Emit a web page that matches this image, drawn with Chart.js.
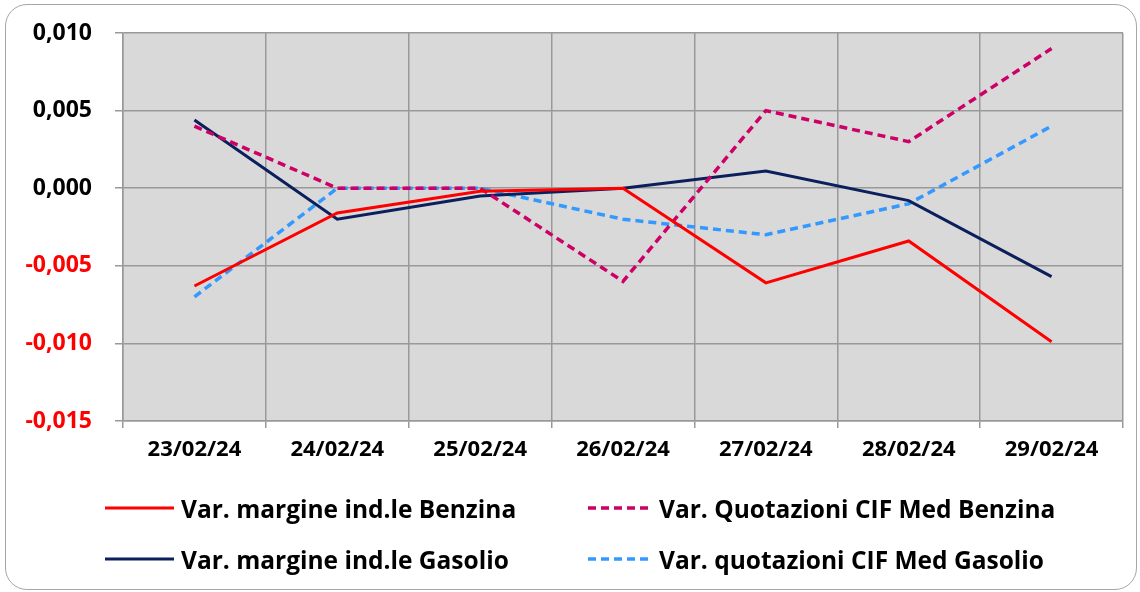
<!DOCTYPE html>
<html>
<head>
<meta charset="utf-8">
<script src="https://cdn.jsdelivr.net/npm/chart.js@4.4.1/dist/chart.umd.min.js"></script>
<style>
  html, body { margin:0; padding:0; background:#fff; }
  body { width:1140px; height:592px; position:relative; overflow:hidden; font-family: "Open Sans", Lato, sans-serif; }
  #frame { position:absolute; left:5px; top:4px; width:1132px; height:586px; border:1.5px solid #a6a6a6; border-radius:22px; box-sizing:border-box; }
  #wrap { position:absolute; left:0; top:0; width:1140px; height:592px; }
  .leg { position:absolute; display:flex; align-items:center; font-weight:bold; font-size:24.5px; color:#000; white-space:nowrap; }
  .leg svg { margin-right:7px; }
</style>
</head>
<body>
<div id="frame"></div>
<div id="wrap"><canvas id="c" width="1140" height="592"></canvas></div>
<div id="legend"></div>
<script>
const categories = ["23/02/24","24/02/24","25/02/24","26/02/24","27/02/24","28/02/24","29/02/24"];
const margineBenzina = [-0.0063, -0.0016, -0.0002, 0.0000, -0.0061, -0.0034, -0.0099];
const quotazioniBenzina = [0.004, 0.000, 0.000, -0.006, 0.005, 0.003, 0.009];
const margineGasolio = [0.0044, -0.0020, -0.0005, 0.0000, 0.0011, -0.0008, -0.0057];
const quotazioniGasolio = [-0.007, 0.000, 0.000, -0.002, -0.003, -0.001, 0.004];
const yTicks = [-0.015, -0.010, -0.005, 0.000, 0.005, 0.010];
const seriesLabels = ["Var. margine ind.le Benzina","Var. Quotazioni CIF Med Benzina","Var. margine ind.le Gasolio","Var. quotazioni CIF Med Gasolio"];

const datasets = [
  {label: seriesLabels[0], data: margineBenzina, borderColor:'#ff0000', borderWidth:3, borderDash:[]},
  {label: seriesLabels[1], data: quotazioniBenzina, borderColor:'#cc0066', borderWidth:3.5, borderDash:[8,5]},
  {label: seriesLabels[2], data: margineGasolio, borderColor:'#0a1f5c', borderWidth:3, borderDash:[]},
  {label: seriesLabels[3], data: quotazioniGasolio, borderColor:'#3399ff', borderWidth:3.5, borderDash:[8,5]}
].map(d => Object.assign(d, {fill:false, tension:0, pointRadius:0, pointHoverRadius:0}));

const plotBg = {
  id:'plotBg',
  beforeDraw(chart){
    const {ctx, chartArea:a} = chart;
    ctx.save(); ctx.fillStyle='#d9d9d9';
    ctx.fillRect(a.left, a.top, a.right-a.left, a.bottom-a.top);
    ctx.restore();
  }
};

new Chart(document.getElementById('c'), {
  type:'line',
  data:{labels:categories, datasets},
  plugins:[plotBg],
  options:{
    responsive:false, animation:false,
    layout:{padding:{left:0, right:17, top:33, bottom:0}},
    plugins:{legend:{display:false}, tooltip:{enabled:false}},
    scales:{
      x:{
        offset:true,
        grid:{offset:true, color:'#999999', lineWidth:1.5, tickLength:7, drawTicks:true},
        border:{color:'#999999', width:1.5},
        ticks:{color:'#000', font:{family:'Open Sans', weight:'bold', size:22}, padding:9, maxRotation:0},
        afterFit(s){ s.height = 171; s.paddingLeft = 0; s.paddingRight = 0; }
      },
      y:{
        min:-0.015, max:0.010,
        afterBuildTicks(s){ s.ticks = yTicks.map(v=>({value:v})); },
        grid:{color:'#999999', lineWidth:1.5, tickLength:8},
        border:{color:'#999999', width:1.5},
        ticks:{
          font:{family:'Open Sans', weight:'bold', size:23}, padding:23,
          color:(c)=> c.tick && c.tick.value < 0 ? '#ff0000' : '#000000',
          callback:(v)=> Number(v).toFixed(3).replace('.',',')
        },
        afterFit(s){ s.width = 123; s.paddingTop = 0; s.paddingBottom = 0; }
      }
    }
  }
});

// HTML legend built from datasets
const legPos = [[105,508],[588,508],[105,559],[588,559]];
const legend = document.getElementById('legend');
datasets.forEach((d,i)=>{
  const el = document.createElement('div');
  el.className='leg';
  el.style.left = legPos[i][0]+'px';
  el.style.top = (legPos[i][1]-17)+'px';
  el.style.height='34px';
  const w = i%2===0 ? 69 : 64;
  const dash = d.borderDash.length ? `stroke-dasharray="${d.borderDash.join(',')}"` : '';
  el.innerHTML = `<svg width="${w}" height="8"><line x1="0" y1="4" x2="${w}" y2="4" stroke="${d.borderColor}" stroke-width="${d.borderWidth}" ${dash}/></svg><span>${d.label}</span>`;
  legend.appendChild(el);
});
</script>
</body>
</html>
